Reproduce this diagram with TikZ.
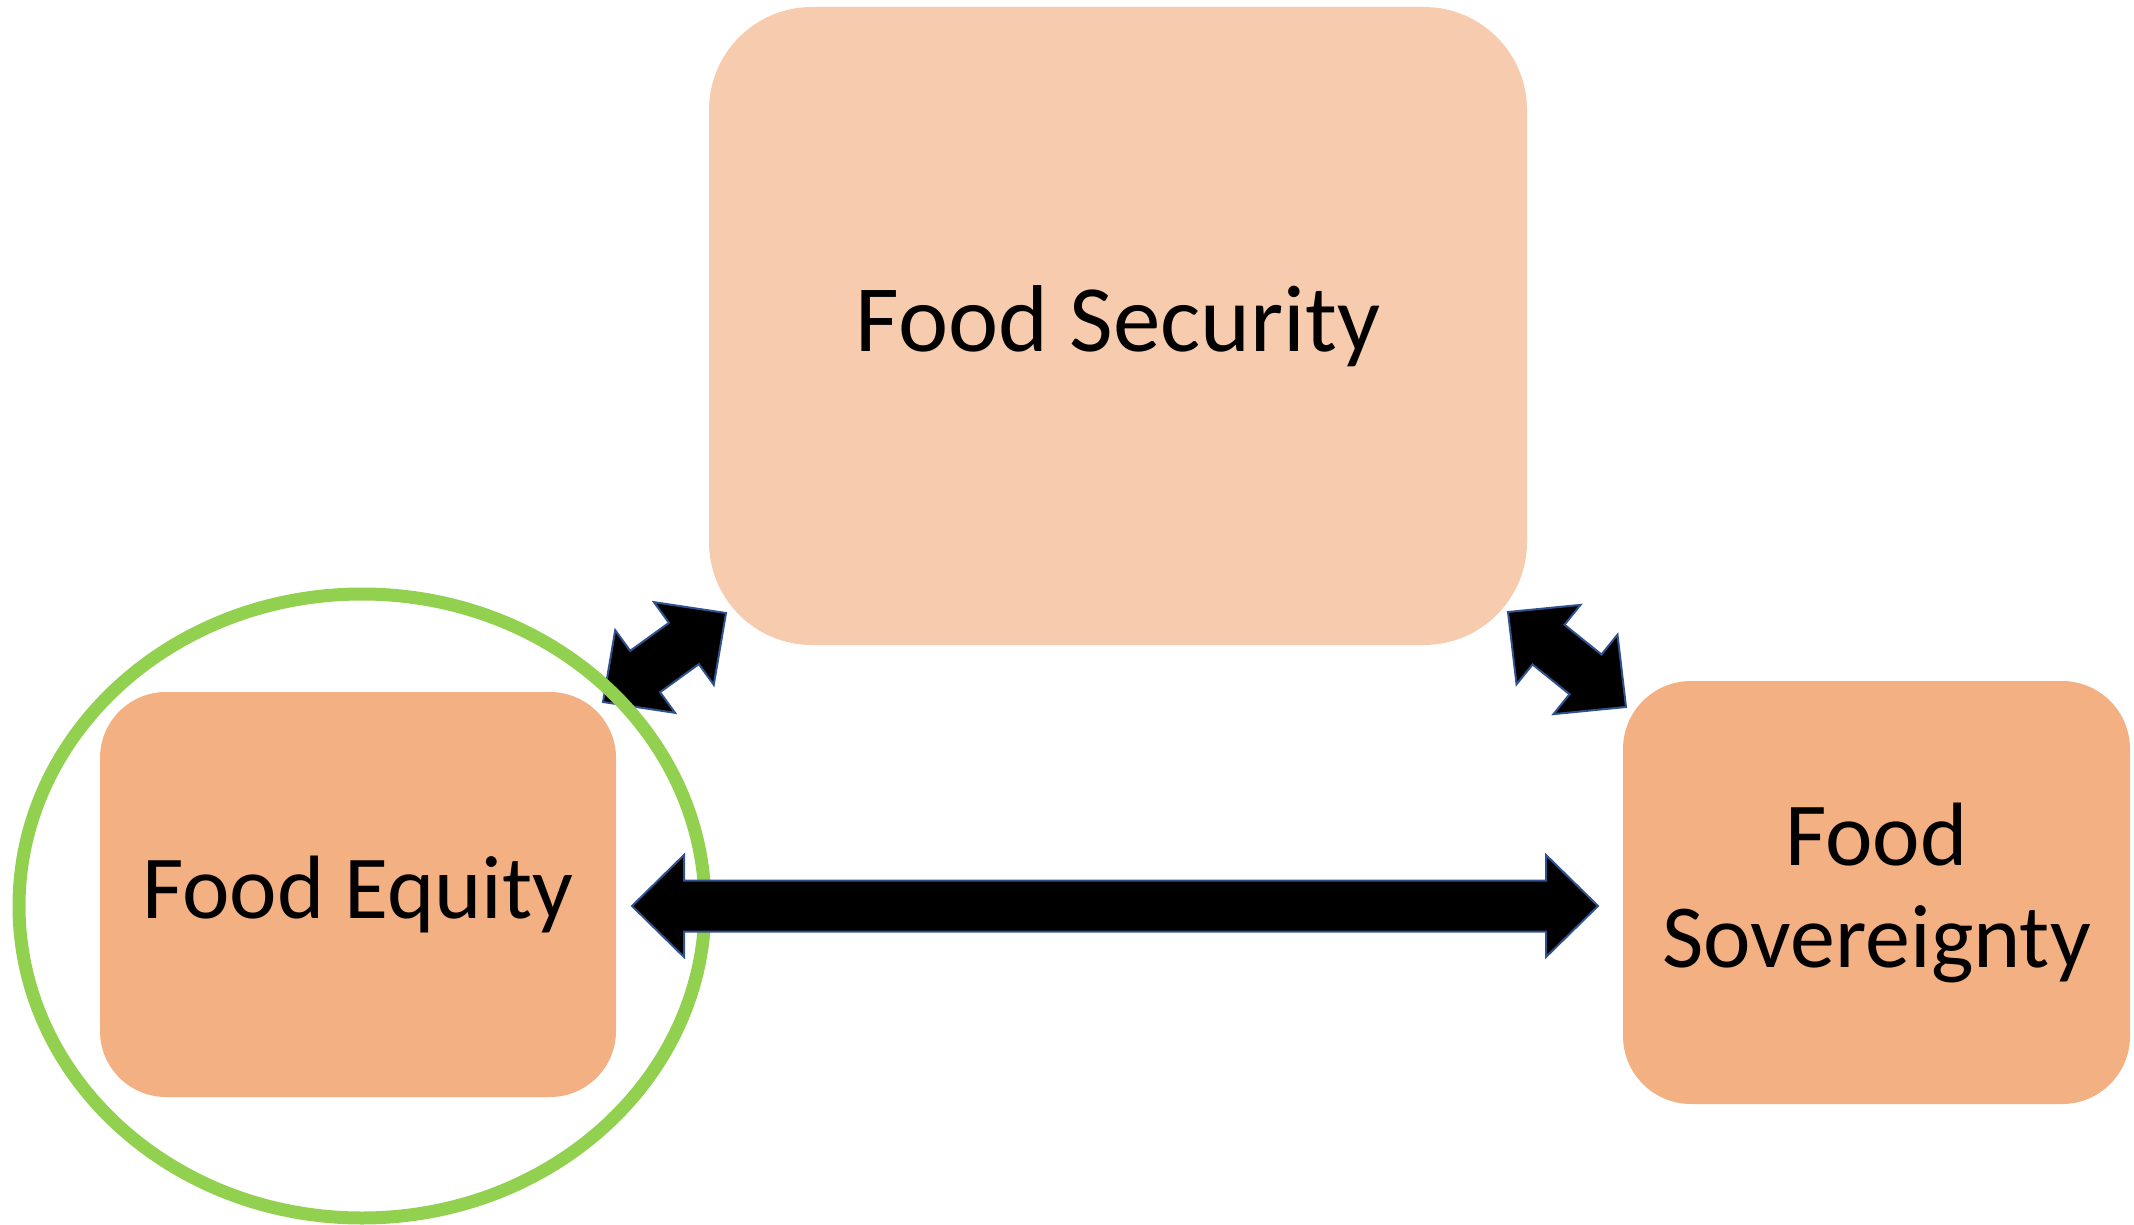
\documentclass[tikz,border=0pt]{standalone}
\usepackage{fontspec}
\setmainfont{Carlito}
\usetikzlibrary{calc,shapes.geometric}
\definecolor{secfill}{HTML}{F7CBAD}
\definecolor{boxfill}{HTML}{F3B083}
\definecolor{ringgreen}{HTML}{92D050}
\definecolor{arrowblue}{HTML}{2F528F}
\newcommand\dblblockarrow[2]{%
  \pgfpointdiff{\pgfpointanchor{#1}{center}}{\pgfpointanchor{#2}{center}}%
  \pgfgetlastxy{\dax}{\day}%
  \pgfmathsetmacro\arrang{atan2(\day,\dax)}%
  \pgfmathsetmacro\arrlen{veclen(\dax,\day)}%
  \begin{scope}[shift={(#1)}, rotate=\arrang]
    \draw[blockarrow] (0pt,0pt) -- (52pt,51pt) -- (52pt,25.5pt)
      -- (\arrlen pt-52pt,25.5pt) -- (\arrlen pt-52pt,51pt) -- (\arrlen pt,0pt)
      -- (\arrlen pt-52pt,-51pt) -- (\arrlen pt-52pt,-25.5pt)
      -- (52pt,-25.5pt) -- (52pt,-51pt) -- cycle;
  \end{scope}}
\tikzset{
  box/.style={rectangle, draw=none, inner sep=0pt, outer sep=0pt, align=center,
    font=\fontsize{90}{102}\selectfont},
  blockarrow/.style={fill=black, draw=arrowblue, line width=2pt, line join=miter},
  ring/.style={draw=ringgreen, line width=13pt}
}
\begin{document}
\begin{tikzpicture}[x=1pt,y=-1pt]
\useasboundingbox (0,0) rectangle (2134,1225);
\node[box, fill=secfill, rounded corners=103pt, minimum width=818pt, minimum height=638pt,
  font=\fontsize{95}{102}\selectfont]
  (security) at (1118,326) {Food Security};
\node[box, fill=boxfill, rounded corners=66pt, minimum width=516pt, minimum height=405pt]
  (equity) at (358,894.5) {Food Equity};
\node[box, fill=boxfill, rounded corners=68pt, minimum width=507pt, minimum height=423pt]
  (sovereignty) at (1876.5,892.5) {Food\\Sovereignty};
% arrow end points
\coordinate (eqB) at (603,702);
\coordinate (secA) at (726,613);
\coordinate (secB) at (1508,612);
\coordinate (svB) at (1626,707);
\coordinate (eqA) at (632,906);
\coordinate (svA) at (1598,906);
\dblblockarrow{eqB}{secA}
\node[ring, ellipse, inner sep=0pt, minimum width=686pt, minimum height=624pt] (ring) at (362,906) {};
\dblblockarrow{eqA}{svA}
\dblblockarrow{secB}{svB}
\end{tikzpicture}
\end{document}
